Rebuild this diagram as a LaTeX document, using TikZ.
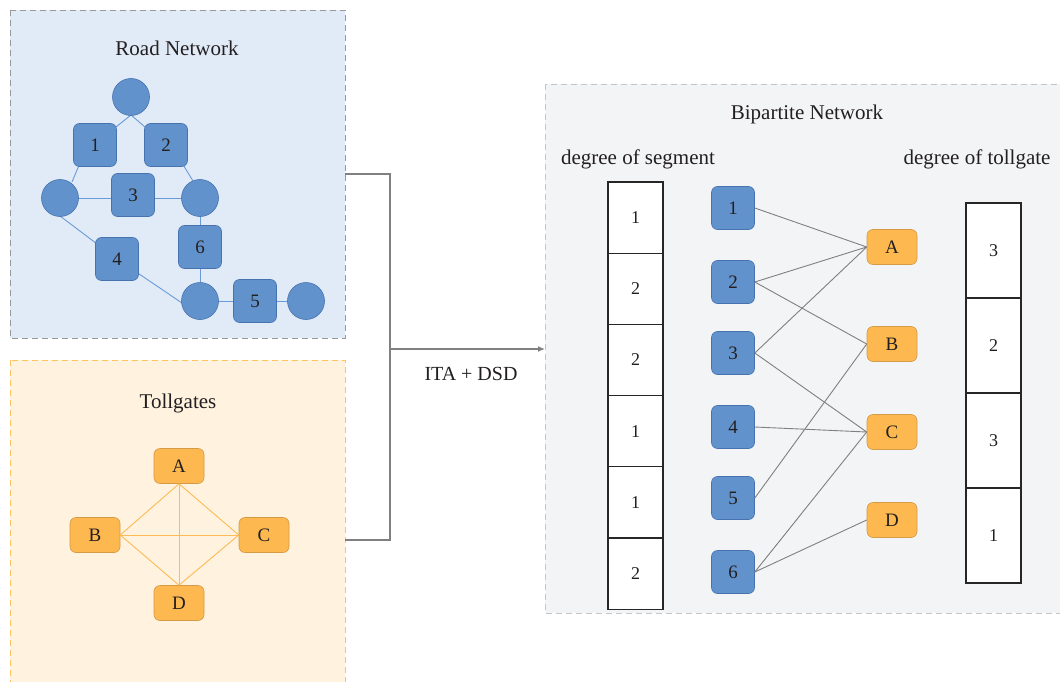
\documentclass[tikz,border=0pt]{standalone}
\usepackage{fontspec}
\setmainfont{Liberation Serif}
\usetikzlibrary{arrows.meta}
\begin{document}
\begin{tikzpicture}[x=1pt,y=-1pt,
  dsh/.style={dash pattern=on 6pt off 4pt},
  roadbox/.style={draw=gray!80,dsh,fill=roadfill,line width=0.9pt},
  tollbox/.style={draw=tollline,dsh,fill=tollfill,line width=0.9pt},
  bipbox/.style={draw=gray!45,dsh,fill=bipfill,line width=0.9pt},
  junc/.style={circle,draw=blueline,fill=bluefill,minimum size=37pt,inner sep=0pt,line width=0.6pt},
  seg/.style={rectangle,rounded corners=6pt,draw=blueline,fill=bluefill,minimum width=43pt,minimum height=43pt,inner sep=0pt,line width=0.6pt,font=\fontsize{19}{20}\selectfont,text=txt},
  gate/.style={rectangle,rounded corners=6pt,draw=orangeline,fill=orangefill,minimum width=50pt,minimum height=35pt,inner sep=0pt,line width=0.6pt,font=\fontsize{19}{20}\selectfont,text=txt},
  redge/.style={draw=roadedge,line width=0.9pt},
  tedge/.style={draw=tolledge,line width=0.9pt},
  bedge/.style={draw=gray,line width=0.9pt},
  flow/.style={draw=gray,line width=1.8pt},
  cell/.style={rectangle,draw=black!85,line width=1.1pt,fill=white,inner sep=0pt,font=\fontsize{18}{20}\selectfont,text=txt},
  title/.style={font=\fontsize{21}{24}\selectfont,text=txt}
]
\definecolor{roadfill}{HTML}{E1EBF7}
\definecolor{tollfill}{HTML}{FFF3DF}
\definecolor{tollline}{HTML}{FFC460}
\definecolor{bipfill}{HTML}{F3F4F6}
\definecolor{bluefill}{HTML}{6292CB}
\definecolor{blueline}{HTML}{4672B0}
\definecolor{orangefill}{HTML}{FDB850}
\definecolor{orangeline}{HTML}{D49A45}
\definecolor{roadedge}{HTML}{6A9BD8}
\definecolor{tolledge}{HTML}{FDBA55}
\definecolor{txt}{HTML}{231F20}
\useasboundingbox (0,0) rectangle (1060,682);

% boxes
\path[roadbox] (10,10) rectangle (345,338);
\path[tollbox] (10,360) rectangle (345,684);
\path[bipbox] (545,84) rectangle (1062,613);

% Road network
\node[title] (rt) at (177,48) {Road Network};
\coordinate (ct) at (131,97);
\coordinate (cl) at (60,198);
\coordinate (cr) at (200,198);
\coordinate (cb) at (200,301);
\coordinate (cf) at (306,301);
\coordinate (s1) at (95,145);
\coordinate (s2) at (166,145);
\coordinate (s3) at (133,195);
\coordinate (s6) at (200,247);
\coordinate (s4) at (117,259);
\coordinate (s5) at (255,301);
\draw[redge] (131,115) -- (116,127);
\draw[redge] (131,115) -- (145,127);
\draw[redge] (72,182) -- (80,163);
\draw[redge] (182,163) -- (193,181);
\draw[redge] (cl) -- (cr);
\draw[redge] (cr) -- (cb);
\draw[redge] (60,216) -- (117,259);
\draw[redge] (117,259) -- (182,303);
\draw[redge] (cb) -- (cf);
\node[junc] (nct) at (ct) {};
\node[junc] (ncl) at (cl) {};
\node[junc] (ncr) at (cr) {};
\node[junc] (ncb) at (cb) {};
\node[junc] (ncf) at (cf) {};
\node[seg] (n1) at (s1) {1};
\node[seg] (n2) at (s2) {2};
\node[seg] (n3) at (s3) {3};
\node[seg] (n6) at (s6) {6};
\node[seg] (n4) at (s4) {4};
\node[seg] (n5) at (s5) {5};

% Tollgates
\node[title] (tt) at (178,403) {Tollgates};
\node[gate] (tA) at (179,466) {A};
\node[gate] (tB) at (95,535) {B};
\node[gate] (tC) at (264,535) {C};
\node[gate] (tD) at (179,603) {D};
\draw[tedge] (tA.south) -- (tB.east);
\draw[tedge] (tA.south) -- (tC.west);
\draw[tedge] (tA.south) -- (tD.north);
\draw[tedge] (tB.east) -- (tC.west);
\draw[tedge] (tB.east) -- (tD.north);
\draw[tedge] (tC.west) -- (tD.north);

% flow connector
\coordinate (r1) at (345,174);
\coordinate (t1) at (345,540);
\coordinate (jn) at (390,349);
\coordinate (bp) at (545,349);
\draw[flow] (r1) -- (390,174) -- (390,540) -- (t1);
\draw[flow,-{Latex[length=7pt,width=6pt]}] (jn) -- (bp);
\node[font=\fontsize{20}{22}\selectfont,text=txt] (lab) at (471,374) {ITA + DSD};

% Bipartite
\node[title] (bt) at (807,114) {Bipartite Network};
\node[title] (ds) at (638,159) {degree of segment};
\node[title] (dt) at (977,159) {degree of tollgate};

\foreach \v [count=\i from 0] in {1,2,2,1,1,2}{
  \node[cell,minimum width=55pt,minimum height=71.2pt] (sc\i) at (635.5,{217.6+71.2*\i}) {\v};
}
\foreach \v [count=\i from 0] in {3,2,3,1}{
  \node[cell,minimum width=55pt,minimum height=95pt] (tc\i) at (993.5,{250.5+95*\i}) {\v};
}

\node[seg] (b1) at (733,208) {1};
\node[seg] (b2) at (733,282) {2};
\node[seg] (b3) at (733,353) {3};
\node[seg] (b4) at (733,427) {4};
\node[seg] (b5) at (733,498) {5};
\node[seg] (b6) at (733,572) {6};
\node[gate] (gA) at (892,247) {A};
\node[gate] (gB) at (892,344) {B};
\node[gate] (gC) at (892,432) {C};
\node[gate] (gD) at (892,520) {D};
\draw[bedge] (b1.east) -- (gA.west);
\draw[bedge] (b2.east) -- (gA.west);
\draw[bedge] (b2.east) -- (gB.west);
\draw[bedge] (b3.east) -- (gA.west);
\draw[bedge] (b3.east) -- (gC.west);
\draw[bedge] (b4.east) -- (gC.west);
\draw[bedge] (b5.east) -- (gB.west);
\draw[bedge] (b6.east) -- (gC.west);
\draw[bedge] (b6.east) -- (gD.west);
\end{tikzpicture}
\end{document}
